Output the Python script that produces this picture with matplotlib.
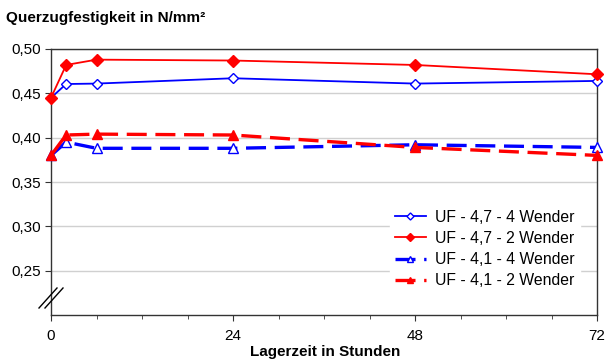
import matplotlib.pyplot as plt
from matplotlib.ticker import FuncFormatter, MultipleLocator

plt.rcParams['font.family'] = ['Liberation Sans', 'DejaVu Sans']

hours = [0, 2, 6, 24, 48, 72]
uf47_4w = [0.445, 0.4605, 0.461, 0.467, 0.461, 0.464]
uf47_2w = [0.445, 0.482, 0.488, 0.487, 0.482, 0.4715]
uf41_4w = [0.380, 0.395, 0.388, 0.388, 0.392, 0.389]
uf41_2w = [0.380, 0.403, 0.404, 0.403, 0.389, 0.380]
labels = ['UF - 4,7 - 4 Wender', 'UF - 4,7 - 2 Wender',
          'UF - 4,1 - 4 Wender', 'UF - 4,1 - 2 Wender']

fig = plt.figure(figsize=(6.06, 3.62), dpi=100)
ax = fig.add_axes([51/606, 1-315/362, 546/606, 266/362])

blue = '#0000ff'
red = '#ff0000'
ax.plot(hours, uf47_4w, color=blue, lw=1.3, marker='D', ms=5.5,
        mfc='white', mec=blue, mew=1.0, label=labels[0], clip_on=False, zorder=3)
ax.plot(hours, uf47_2w, color=red, lw=1.3, marker='D', ms=6,
        mfc=red, mec=red, label=labels[1], clip_on=False, zorder=3)
ax.plot(hours, uf41_4w, color=blue, lw=2.4, dashes=(6, 2.6), marker='^', ms=7.5,
        mfc='white', mec=blue, mew=1.0, label=labels[2], clip_on=False, zorder=3)
ax.plot(hours, uf41_2w, color=red, lw=2.4, dashes=(6, 2.6), marker='^', ms=7.5,
        mfc=red, mec=red, label=labels[3], clip_on=False, zorder=3)

ax.set_xlim(0, 72)
ax.set_ylim(0.2, 0.5)
ax.set_xticks([0, 24, 48, 72])
ax.xaxis.set_minor_locator(MultipleLocator(6))
ax.set_yticks([0.25, 0.30, 0.35, 0.40, 0.45, 0.50])
ax.yaxis.set_major_formatter(FuncFormatter(lambda v, p: f'{v:.2f}'.replace('.', ',')))
ax.tick_params(axis='both', labelsize=11, color='#333333', length=4)
ax.tick_params(axis='x', which='minor', length=3, color='#333333')
ax.tick_params(axis='x', pad=6)
ax.grid(axis='y', color='#d0d0d0', lw=1.0)
ax.set_axisbelow(True)
for s in ax.spines.values():
    s.set_color('#333333')
    s.set_linewidth(1.0)

# break marks on the y axis
x0, y0 = 51, 362 - 298
for dx in (-3, 3):
    fig.add_artist(plt.Line2D([(x0 + dx - 9)/606, (x0 + dx + 9)/606],
                              [(y0 - 10)/362, (y0 + 10)/362],
                              color='black', lw=1))

fig.text(6/606, 1-18/362, 'Querzugfestigkeit in N/mm²', fontsize=11,
         fontweight='bold', va='center', ha='left')
fig.text(325/606, 1-352/362, 'Lagerzeit in Stunden', fontsize=11,
         fontweight='bold', va='center', ha='center')

leg = ax.legend(loc='upper left', bbox_to_anchor=(382/606, 1-197/362),
                bbox_transform=fig.transFigure, frameon=True, fontsize=11.3,
                handlelength=2.0, handletextpad=0.6, labelspacing=0.4,
                borderpad=0.3, markerscale=0.65)
leg.get_frame().set_edgecolor('white')
leg.get_frame().set_facecolor('white')
leg.get_frame().set_alpha(1)

fig.savefig('out.png', dpi=100)
